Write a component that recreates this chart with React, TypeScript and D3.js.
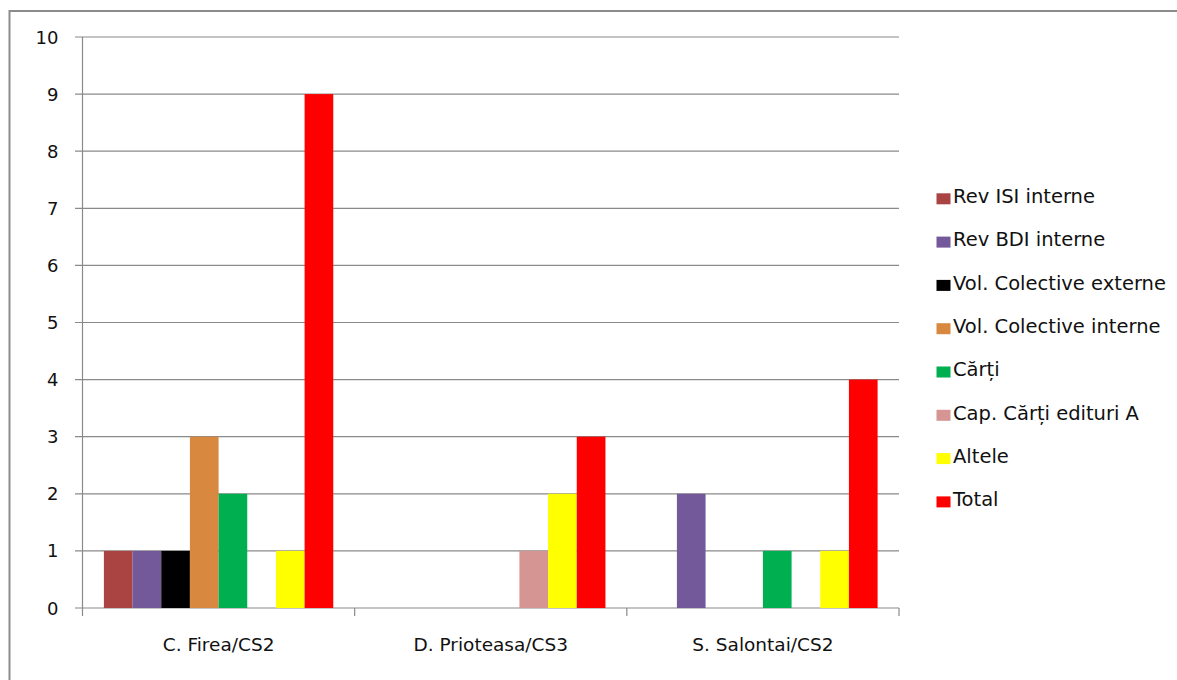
import React from "react";
import * as d3 from "d3";

const categories = ["C. Firea/CS2", "D. Prioteasa/CS3", "S. Salontai/CS2"];
const seriesNames = [
  "Rev ISI interne",
  "Rev BDI interne",
  "Vol. Colective externe",
  "Vol. Colective interne",
  "Cărți",
  "Cap. Cărți edituri A",
  "Altele",
  "Total",
];
const seriesColors = ["#A94442", "#73599A", "#000000", "#D9883F", "#00B050", "#D59593", "#FFFF00", "#FF0000"];
const revIsi = [1, 0, 0];
const revBdi = [1, 0, 2];
const volExt = [1, 0, 0];
const volInt = [3, 0, 0];
const carti = [2, 0, 1];
const capCarti = [0, 1, 0];
const altele = [1, 2, 1];
const total = [9, 3, 4];
const seriesValues = [revIsi, revBdi, volExt, volInt, carti, capCarti, altele, total];
const yTicks = [0, 1, 2, 3, 4, 5, 6, 7, 8, 9, 10];

const W = 1177;
const H = 680;
const left = 82.5;
const right = 899;
const top = 37;
const bottom = 608;
const font = "'DejaVu Sans', Verdana, sans-serif";

export default function App() {
  const x0 = d3.scaleBand<string>().domain(categories).range([left, right]).paddingInner(0).paddingOuter(0);
  const inner = 229.4 / 272.2;
  const x1 = d3
    .scaleBand<string>()
    .domain(seriesNames)
    .range([(x0.bandwidth() * (1 - inner)) / 2, (x0.bandwidth() * (1 + inner)) / 2]);
  const y = d3.scaleLinear().domain([0, 10]).range([bottom, top]);
  const grid = "#8a8a8a";
  const catEdges = categories.map((c) => x0(c)!).concat([right]);

  return (
    <svg width={W} height={H} style={{ position: "absolute", left: 0, top: 0, background: "#fff" }}>
      <rect x={0} y={0} width={W} height={H} fill="#fff" />
      {/* frame */}
      <line x1={9.5} y1={10} x2={9.5} y2={H} stroke="#8c8c8c" strokeWidth={2} />
      <line x1={9} y1={11} x2={W} y2={11} stroke="#8c8c8c" strokeWidth={2} />
      {/* gridlines */}
      {yTicks.map((t) => (
        <g key={t}>
          <line x1={left - 7.5} x2={right} y1={y(t)} y2={y(t)} stroke={grid} strokeWidth={1.2} />
          <text x={58.5} y={y(t) + 6.5} textAnchor="end" fontFamily={font} fontSize={18} fill="#111">
            {t}
          </text>
        </g>
      ))}
      {/* y axis */}
      <line x1={left} x2={left} y1={top} y2={bottom} stroke={grid} strokeWidth={1.2} />
      {/* x tick marks */}
      {catEdges.map((e, i) => (
        <line key={i} x1={e} x2={e} y1={bottom} y2={bottom + 8} stroke={grid} strokeWidth={1.2} />
      ))}
      {/* bars */}
      {categories.map((c, ci) => (
        <g key={c} transform={`translate(${x0(c)},0)`}>
          {seriesNames.map((s, si) => {
            const v = seriesValues[si][ci];
            if (!v) return null;
            return (
              <rect
                key={s}
                x={x1(s)!}
                y={y(v)}
                width={x1.bandwidth()}
                height={y(0) - y(v)}
                fill={seriesColors[si]}
              />
            );
          })}
        </g>
      ))}
      {/* category labels */}
      {categories.map((c) => (
        <text
          key={c}
          x={x0(c)! + x0.bandwidth() / 2}
          y={651}
          textAnchor="middle"
          fontFamily={font}
          fontSize={18.5}
          fill="#111"
        >
          {c}
        </text>
      ))}
      {/* legend */}
      {seriesNames.map((s, i) => {
        const base = 203 + i * 43.3;
        return (
          <g key={s}>
            <rect x={936.5} y={base - 9.7} width={14} height={11} fill={seriesColors[i]} />
            <text x={953} y={base} fontFamily={font} fontSize={19.5} fill="#111">
              {s}
            </text>
          </g>
        );
      })}
    </svg>
  );
}
